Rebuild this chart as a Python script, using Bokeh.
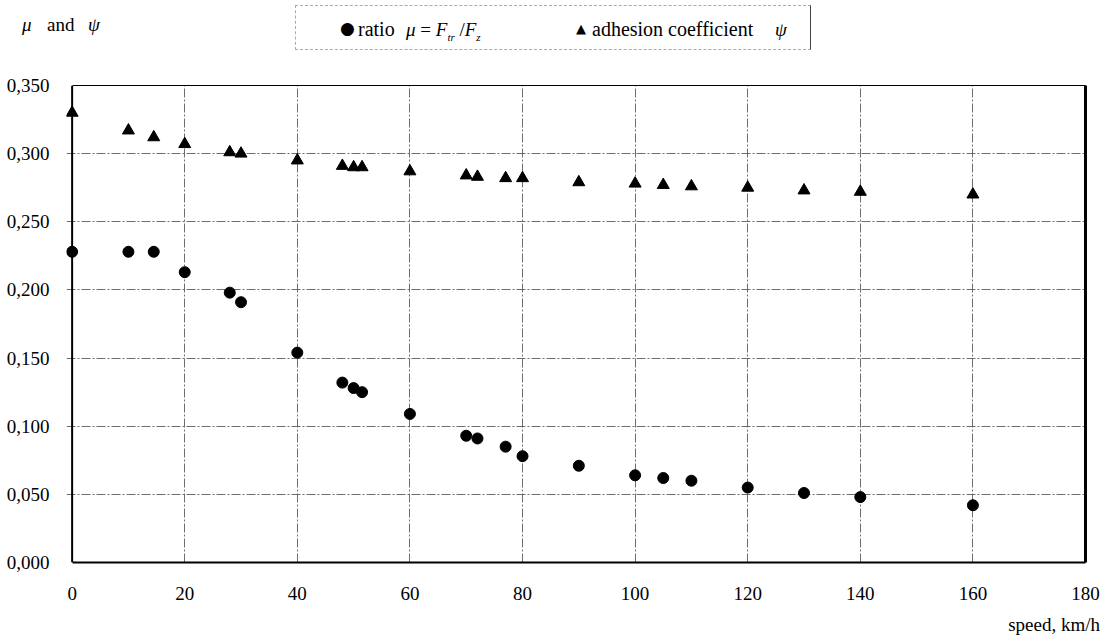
from bokeh.plotting import figure
from bokeh.layouts import column
from bokeh.models import Range1d, FixedTicker, Div, LinearAxis, Span
from bokeh.embed import file_html
from bokeh.resources import INLINE

# ---- data ----
speed_ratio = [0, 10, 14.5, 20, 28, 30, 40, 48, 50, 51.5, 60, 70, 72, 77, 80, 90, 100, 105, 110, 120, 130, 140, 160]
ratio_mu = [0.228, 0.228, 0.228, 0.213, 0.198, 0.191, 0.154, 0.132, 0.128, 0.125, 0.109, 0.093, 0.091, 0.085,
            0.078, 0.071, 0.064, 0.062, 0.060, 0.055, 0.051, 0.048, 0.042]
speed_psi = [0, 10, 14.5, 20, 28, 30, 40, 48, 50, 51.5, 60, 70, 72, 77, 80, 90, 100, 105, 110, 120, 130, 140, 160]
adhesion_psi = [0.330, 0.317, 0.312, 0.307, 0.301, 0.300, 0.295, 0.291, 0.290, 0.290, 0.287, 0.284, 0.283, 0.282,
                0.282, 0.279, 0.278, 0.277, 0.276, 0.275, 0.273, 0.272, 0.270]
x_ticks = [0, 20, 40, 60, 80, 100, 120, 140, 160, 180]
y_ticks = [0.0, 0.05, 0.10, 0.15, 0.20, 0.25, 0.30, 0.35]
y_tick_labels = ["0,000", "0,050", "0,100", "0,150", "0,200", "0,250", "0,300", "0,350"]
x_title = "speed, km/h"

SERIF = "Liberation Serif"
W = 1112
HEAD_H = 60
MAIN_H = 550
FOOT_H = 32


def piece(left, top, html, size=20, extra=""):
    return (f'<span style="position:absolute;left:{left}px;top:{top}px;font-size:{size}px;'
            f'line-height:1;white-space:nowrap;{extra}">{html}</span>')


header_html = (
    f'<div style="position:relative;width:{W}px;height:{HEAD_H}px;font-family:\'{SERIF}\',serif;color:#000;">'
    + piece(22, 15, "<i>μ</i>", 19)
    + piece(47, 15, "and", 19)
    + piece(88, 15, "<i>ψ</i>", 19)
    + '<div style="position:absolute;left:295px;top:5px;width:516px;height:45px;'
      'border-top:1px dashed #aaa;border-left:1px dashed #aaa;border-bottom:1px dashed #aaa;'
      'border-right:1px solid #444;"></div>'
    + piece(340, 20, "●", 17, "font-family:'DejaVu Sans';")
    + piece(358, 19, "ratio", 20)
    + piece(406, 20, '<i>μ</i> = <i>F</i><sub style="font-size:11px"><i>tr</i></sub> /<i>F</i>'
                     '<sub style="font-size:11px"><i>z</i></sub>', 19)
    + piece(576, 22, "▲", 13, "font-family:'DejaVu Sans';")
    + piece(592, 19, "adhesion coefficient", 20)
    + piece(775, 20, "<i>ψ</i>", 19)
    + '</div>'
)
header = Div(text=header_html, width=W, height=HEAD_H, margin=0)

footer_html = (
    f'<div style="position:relative;width:{W}px;height:{FOOT_H}px;font-family:\'{SERIF}\',serif;color:#000;">'
    f'<span style="position:absolute;right:12px;top:5px;font-size:19px;line-height:1;white-space:nowrap;">'
    f'{x_title}</span></div>'
)
footer = Div(text=footer_html, width=W, height=FOOT_H, margin=0)

# ---- main chart ----
p = figure(width=W, height=MAIN_H, x_range=Range1d(-1, 180), y_range=Range1d(0, 0.35),
           output_backend="svg", toolbar_location=None,
           min_border_left=66, min_border_right=27, min_border_top=25, min_border_bottom=48)
p.outline_line_color = None

p.xaxis.ticker = FixedTicker(ticks=x_ticks)
p.xaxis.bounds = (0, 180)
p.yaxis.ticker = FixedTicker(ticks=y_ticks)
p.yaxis.major_label_overrides = {t: l for t, l in zip(y_ticks, y_tick_labels)}
for ax in (p.xaxis[0], p.yaxis[0]):
    ax.major_label_text_font = SERIF
    ax.major_label_text_font_size = "19px"
    ax.major_label_text_color = "black"
    ax.major_tick_line_color = None
    ax.minor_tick_line_color = None
    ax.axis_line_color = "black"
    ax.axis_line_width = 2
p.yaxis.axis_line_color = None
p.xaxis.major_label_standoff = 18
p.yaxis.major_label_standoff = 11

# y axis line drawn at speed 0
p.add_layout(Span(location=0, dimension="height", line_color="black", line_width=2))

# frame borders on top and right
top_border = LinearAxis(ticker=FixedTicker(ticks=[]), bounds=(0, 180), axis_line_color="black",
                        axis_line_width=1, major_tick_line_color=None, minor_tick_line_color=None,
                        major_label_text_font_size="0px")
right_border = LinearAxis(ticker=FixedTicker(ticks=[]), axis_line_color="black", axis_line_width=3,
                          major_tick_line_color=None, minor_tick_line_color=None,
                          major_label_text_font_size="0px")
p.add_layout(top_border, "above")
p.add_layout(right_border, "right")

p.xgrid.ticker = FixedTicker(ticks=x_ticks[1:-1])
p.ygrid.ticker = FixedTicker(ticks=y_ticks[1:-1])
p.grid.grid_line_color = "#555555"
p.grid.grid_line_width = 1
p.grid.grid_line_dash = "9 2 2 2"
p.grid.grid_line_alpha = 0.85

p.scatter(speed_ratio, ratio_mu, marker="circle", size=11, color="black")
p.scatter(speed_psi, adhesion_psi, marker="triangle", size=12, color="black")

layout = column(header, p, footer, spacing=0)
open("out.html", "w").write(file_html(layout, INLINE))
